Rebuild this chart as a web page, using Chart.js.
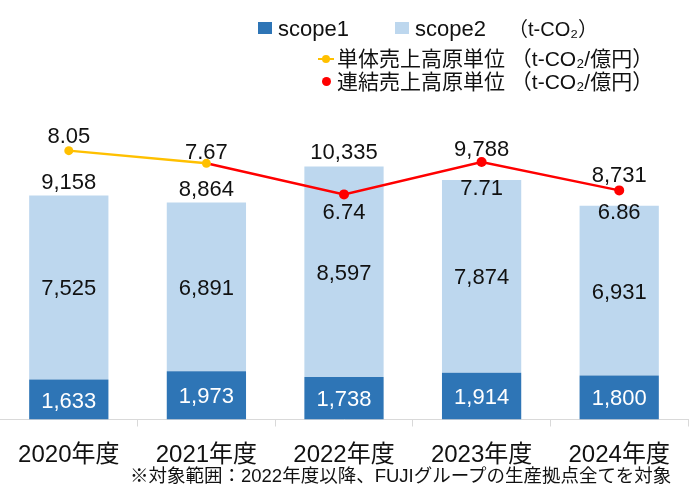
<!DOCTYPE html>
<html>
<head>
<meta charset="utf-8">
<script src="https://cdn.jsdelivr.net/npm/chart.js@4"></script>
<style>
  body { margin: 0; background: #fff; }
  #wrap { position: relative; width: 690px; height: 501px; font-family: "Liberation Sans", "Noto Sans CJK JP", sans-serif; color: #111; }
  #wrap canvas { position: absolute; left: 0; top: 0; }
  .lg { position: absolute; white-space: nowrap; line-height: 1; }
  .sq { position: absolute; width: 14px; height: 12px; }
  .dot { position: absolute; width: 9px; height: 9px; border-radius: 50%; }
  .bar { position: absolute; height: 2px; width: 16px; }
  #note { position: absolute; left: 130px; top: 467px; font-size: 18.5px; white-space: nowrap; line-height: 1; }
</style>
</head>
<body>
<div id="wrap">
  <canvas id="co2Chart" width="690" height="501"></canvas>

  <div class="sq" style="left:258px; top:22px; background:#2e75b6"></div>
  <div class="lg" style="left:278px; top:18px; font-size:22px">scope1</div>
  <div class="sq" style="left:395px; top:22px; background:#bdd7ee"></div>
  <div class="lg" style="left:415px; top:18px; font-size:22px">scope2</div>
  <div class="lg" style="left:508px; top:19px; font-size:20px">（t-CO₂）</div>

  <div class="bar" style="left:318px; top:58px; background:#ffc000"></div>
  <div class="dot" style="left:322px; top:55px; width:8px; height:8px; background:#ffc000"></div>
  <div class="lg" style="left:337px; top:48px; font-size:21px">単体売上高原単位 （t-CO₂/億円）</div>

  <div class="dot" style="left:322px; top:77px; background:#ff0000"></div>
  <div class="lg" style="left:337px; top:71px; font-size:21px">連結売上高原単位 （t-CO₂/億円）</div>

  <div id="note">※対象範囲：2022年度以降、FUJIグループの生産拠点全てを対象</div>
</div>

<script>
const years = ['2020年度', '2021年度', '2022年度', '2023年度', '2024年度'];
const scope1 = [1633, 1973, 1738, 1914, 1800];
const scope2 = [7525, 6891, 8597, 7874, 6931];
// 単体 (non-consolidated) and 連結 (consolidated) intensity, t-CO2 / 億円
const tantai = [8.05, 7.67, null, null, null];
const renketsu = [null, 7.67, 6.74, 7.71, 6.86];

// where the value labels sit (pixels above bar top / relative to the point)
const totalLift = [6, 7, 8, 24, 24];
const lineLabelShift = [-8, -4, 25, 33, 29];

const numFont = '22px "Liberation Sans", Arial, sans-serif';

const valueLabels = {
    id: 'valueLabels',
    afterDatasetsDraw(chart) {
        const ctx = chart.ctx;
        const bars1 = chart.getDatasetMeta(0).data;
        const bars2 = chart.getDatasetMeta(1).data;
        const ptsA = chart.getDatasetMeta(2).data;
        const ptsB = chart.getDatasetMeta(3).data;
        ctx.save();
        ctx.font = numFont;
        ctx.textAlign = 'center';
        ctx.textBaseline = 'alphabetic';
        bars1.forEach((b, i) => {
            ctx.fillStyle = '#ffffff';
            ctx.fillText(scope1[i].toLocaleString('en-US'), b.x, (b.y + b.base) / 2 + 8);
            const b2 = bars2[i];
            ctx.fillStyle = '#111111';
            ctx.fillText(scope2[i].toLocaleString('en-US'), b2.x, (b2.y + b2.base) / 2 + 8);
            const total = scope1[i] + scope2[i];
            ctx.fillText(total.toLocaleString('en-US'), b2.x, b2.y - totalLift[i]);
        });
        years.forEach((y, i) => {
            let v, p;
            if (renketsu[i] != null && i > 1) { v = renketsu[i]; p = ptsB[i]; }
            else if (tantai[i] != null) { v = tantai[i]; p = ptsA[i]; }
            else return;
            ctx.fillText(v.toFixed(2), p.x, p.y + lineLabelShift[i]);
        });
        ctx.restore();
    }
};

const ctx = document.getElementById('co2Chart').getContext('2d');

new Chart(ctx, {
    type: 'bar',
    data: {
        labels: years,
        datasets: [
            {
                label: 'scope1',
                data: scope1,
                backgroundColor: '#2e75b6',
                yAxisID: 'y',
                order: 2
            },
            {
                label: 'scope2',
                data: scope2,
                backgroundColor: '#bdd7ee',
                yAxisID: 'y',
                order: 2
            },
            {
                type: 'line',
                label: '単体売上高原単位',
                data: tantai,
                borderColor: '#ffc000',
                backgroundColor: '#ffc000',
                borderWidth: 2.5,
                pointRadius: 4.5,
                pointBorderWidth: 0,
                yAxisID: 'y2',
                order: 0
            },
            {
                type: 'line',
                label: '連結売上高原単位',
                data: renketsu,
                borderColor: '#ff0000',
                backgroundColor: '#ff0000',
                borderWidth: 2.5,
                pointRadius: (c) => c.dataIndex < 2 ? 0 : 5,
                pointBorderWidth: 0,
                yAxisID: 'y2',
                order: 1
            }
        ]
    },
    options: {
        responsive: false,
        animation: false,
        layout: { autoPadding: false, padding: { top: 85.5, bottom: 33.5, left: 0, right: 2 } },
        plugins: {
            legend: { display: false },
            tooltip: { enabled: false }
        },
        datasets: {
            bar: { barPercentage: 0.576, categoryPercentage: 1 }
        },
        scales: {
            x: {
                stacked: true,
                afterFit: (s) => { s.height = 48; s.paddingLeft = 0; s.paddingRight = 0; },
                grid: {
                    display: true,
                    offset: true,
                    drawOnChartArea: false,
                    drawTicks: true,
                    tickLength: 7,
                    color: '#d9d9d9'
                },
                border: { display: true, color: '#d9d9d9', width: 1 },
                ticks: {
                    color: '#111',
                    padding: 14,
                    font: { family: '"Liberation Sans", "Noto Sans CJK JP"', size: 24 }
                }
            },
            y: {
                stacked: true,
                display: false,
                min: 0,
                max: 13650
            },
            y2: {
                display: false,
                min: 0,
                max: 10
            }
        }
    },
    plugins: [valueLabels]
});
</script>
</body>
</html>
